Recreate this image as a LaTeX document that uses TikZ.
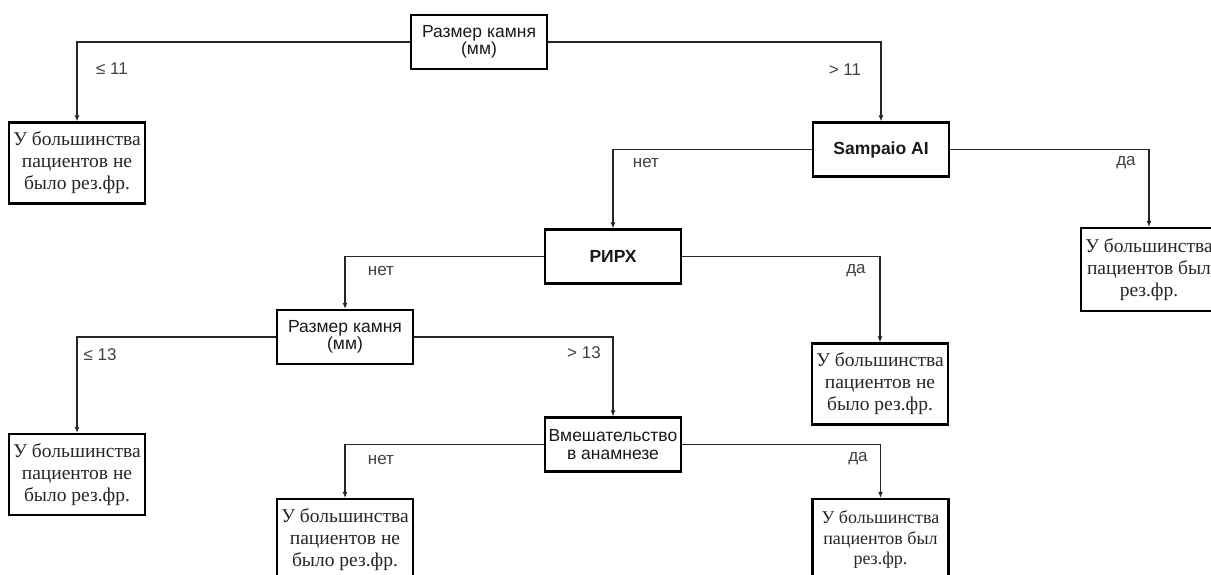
\documentclass[tikz,border=0pt]{standalone}
\usepackage{fontspec}
\setmainfont{Liberation Serif}
\setsansfont{Liberation Sans}
\usetikzlibrary{arrows.meta}
\begin{document}
\begin{tikzpicture}[x=1pt,y=-1pt,
  dec/.style={draw, line width=2.2pt, minimum width=136pt, minimum height=54pt, inner sep=0pt, align=center, text=black!90, font=\sffamily\fontsize{17.5}{17.5}\selectfont},
  decb/.style={dec, font=\sffamily\bfseries\fontsize{17.5}{17.5}\selectfont},
  leaf/.style={draw, line width=2.2pt, minimum width=136pt, minimum height=81pt, inner sep=0pt, align=center, text=black!85, font=\rmfamily\fontsize{19.5}{22}\selectfont},
  conn/.style={line width=1.8pt, draw=black!85, -{Latex[length=6pt,width=5pt]}},
  lab/.style={font=\sffamily\fontsize{17}{18}\selectfont, text=black!75, inner sep=0pt}]
\useasboundingbox (0,0) rectangle (1211,574);
\clip (0,0) rectangle (1211,574);
% nodes
\node[dec] (root) at (479,42) {Размер камня\\(мм)};
\node[leaf] (l1) at (77,163) {У большинства\\пациентов не\\было рез.фр.};
\node[decb] (samp) at (881,149.5) {Sampaio AI};
\node[leaf, minimum height=83pt] (l2) at (1149,269.5) {У большинства\\пациентов был\\рез.фр.};
\node[decb] (rirh) at (613,256.5) {РИРХ};
\node[leaf] (l3) at (880,384) {У большинства\\пациентов не\\было рез.фр.};
\node[dec] (size2) at (345,337) {Размер камня\\(мм)};
\node[leaf] (l4) at (77,474.5) {У большинства\\пациентов не\\было рез.фр.};
\node[dec] (vm) at (613,444.5) {Вмешательство\\в анамнезе};
\node[leaf] (l5) at (345,539.5) {У большинства\\пациентов не\\было рез.фр.};
\node[leaf, font=\rmfamily\fontsize{18}{20.5}\selectfont] (l6) at (880.5,539.5) {У большинства\\пациентов был\\рез.фр.};
% connectors
\draw[conn] (root.west) -| (l1.north);
\draw[conn] (root.east) -| (samp.north);
\draw[conn] (samp.west) -| (rirh.north);
\draw[conn] (samp.east) -| (l2.north);
\draw[conn] (rirh.west) -| (size2.north);
\draw[conn] (rirh.east) -| (l3.north);
\draw[conn] (size2.west) -| (l4.north);
\draw[conn] (size2.east) -| (vm.north);
\draw[conn] (vm.west) -| (l5.north);
\draw[conn] (vm.east) -| (l6.north);
% labels
\node[lab] (t1) at (112,69) {≤ 11};
\node[lab] (t2) at (845,70) {> 11};
\node[lab] (t3) at (646,163) {нет};
\node[lab] (t4) at (1126,163) {да};
\node[lab] (t5) at (381,271) {нет};
\node[lab] (t6) at (856,271) {да};
\node[lab] (t7) at (100,355) {≤ 13};
\node[lab] (t8) at (584,353) {> 13};
\node[lab] (t9) at (381,460) {нет};
\node[lab] (t10) at (858,459) {да};
\end{tikzpicture}
\end{document}
